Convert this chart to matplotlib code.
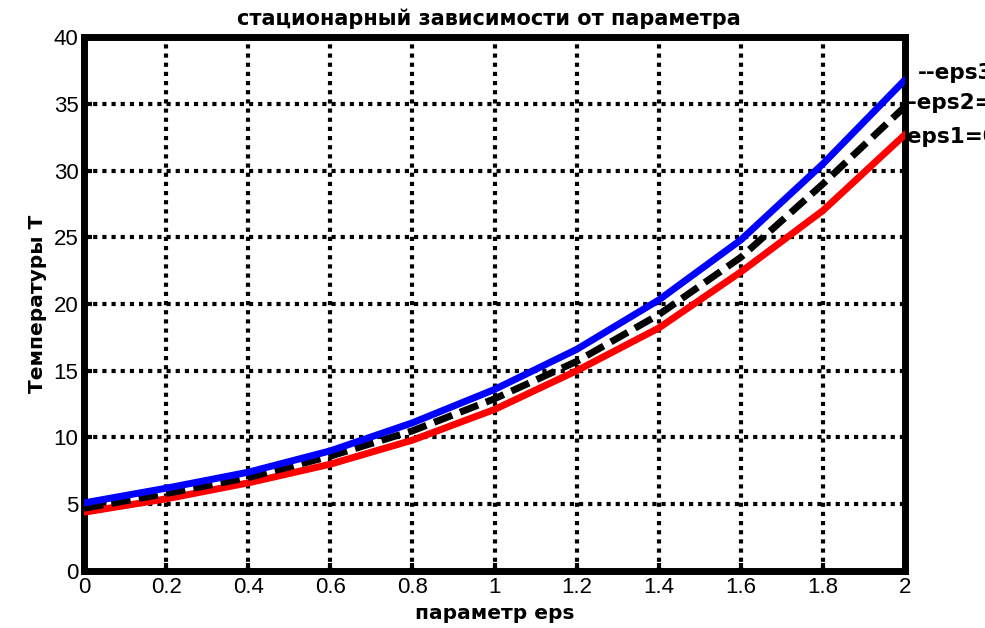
import numpy as np
import matplotlib.pyplot as plt

plt.rcParams['font.family'] = ['Liberation Sans', 'DejaVu Sans']

# parameter values and stationary temperatures for three eps settings
eps = [0, 0.2, 0.4, 0.6, 0.8, 1.0, 1.2, 1.4, 1.6, 1.8, 2.0]
T_eps3 = [5.1, 6.2, 7.4, 9.0, 11.1, 13.6, 16.6, 20.3, 24.8, 30.5, 36.8]
T_eps2 = [4.7, 5.8, 7.0, 8.6, 10.5, 12.9, 15.7, 19.2, 23.5, 29.0, 34.8]
T_eps1 = [4.4, 5.4, 6.6, 8.0, 9.8, 12.1, 15.0, 18.2, 22.4, 27.0, 32.7]
labels = ['--eps3', '--eps2=', '-eps1=0']

fig = plt.figure(figsize=(9.85, 6.28), dpi=100)
ax = fig.add_axes([0.0853, 0.0908, 0.8335, 0.8502])

ax.plot(eps, T_eps1, color='red', lw=5, solid_capstyle='round', zorder=3)
ax.plot(eps, T_eps2, color='black', lw=5, ls=(0, (2.8, 1.2)), zorder=3)
ax.plot(eps, T_eps3, color='blue', lw=5, solid_capstyle='round', zorder=3)

ax.set_xlim(0, 2)
ax.set_ylim(0, 40)
ax.set_xticks(np.arange(0, 2.01, 0.2))
ax.set_xticklabels(['0', '0.2', '0.4', '0.6', '0.8', '1', '1.2', '1.4', '1.6', '1.8', '2'])
ax.set_yticks(np.arange(0, 41, 5))
ax.tick_params(direction='in', length=6, width=3, labelsize=16, pad=4)
ax.grid(True, color='black', ls=(0, (1, 1.2)), lw=3)
for s in ax.spines.values():
    s.set_linewidth(5)

bold = dict(family='DejaVu Sans', fontweight='bold')
ax.set_title('стационарный зависимости от параметра', fontsize=15, pad=9,
             x=0.493, **bold)
ax.set_xlabel('параметр eps', fontsize=14.5, labelpad=5, **bold)
ax.set_ylabel('Температуры Т', fontsize=14.5, labelpad=5, **bold)

# line labels sitting just outside the right edge of the axes
for (x, y), txt in zip([(918, 73), (900, 103), (899, 137)], labels):
    fig.text(x / 985, 1 - y / 628, txt, fontsize=15.5, va='center', ha='left',
             zorder=-1, **bold)

fig.savefig('out.png', dpi=100)
